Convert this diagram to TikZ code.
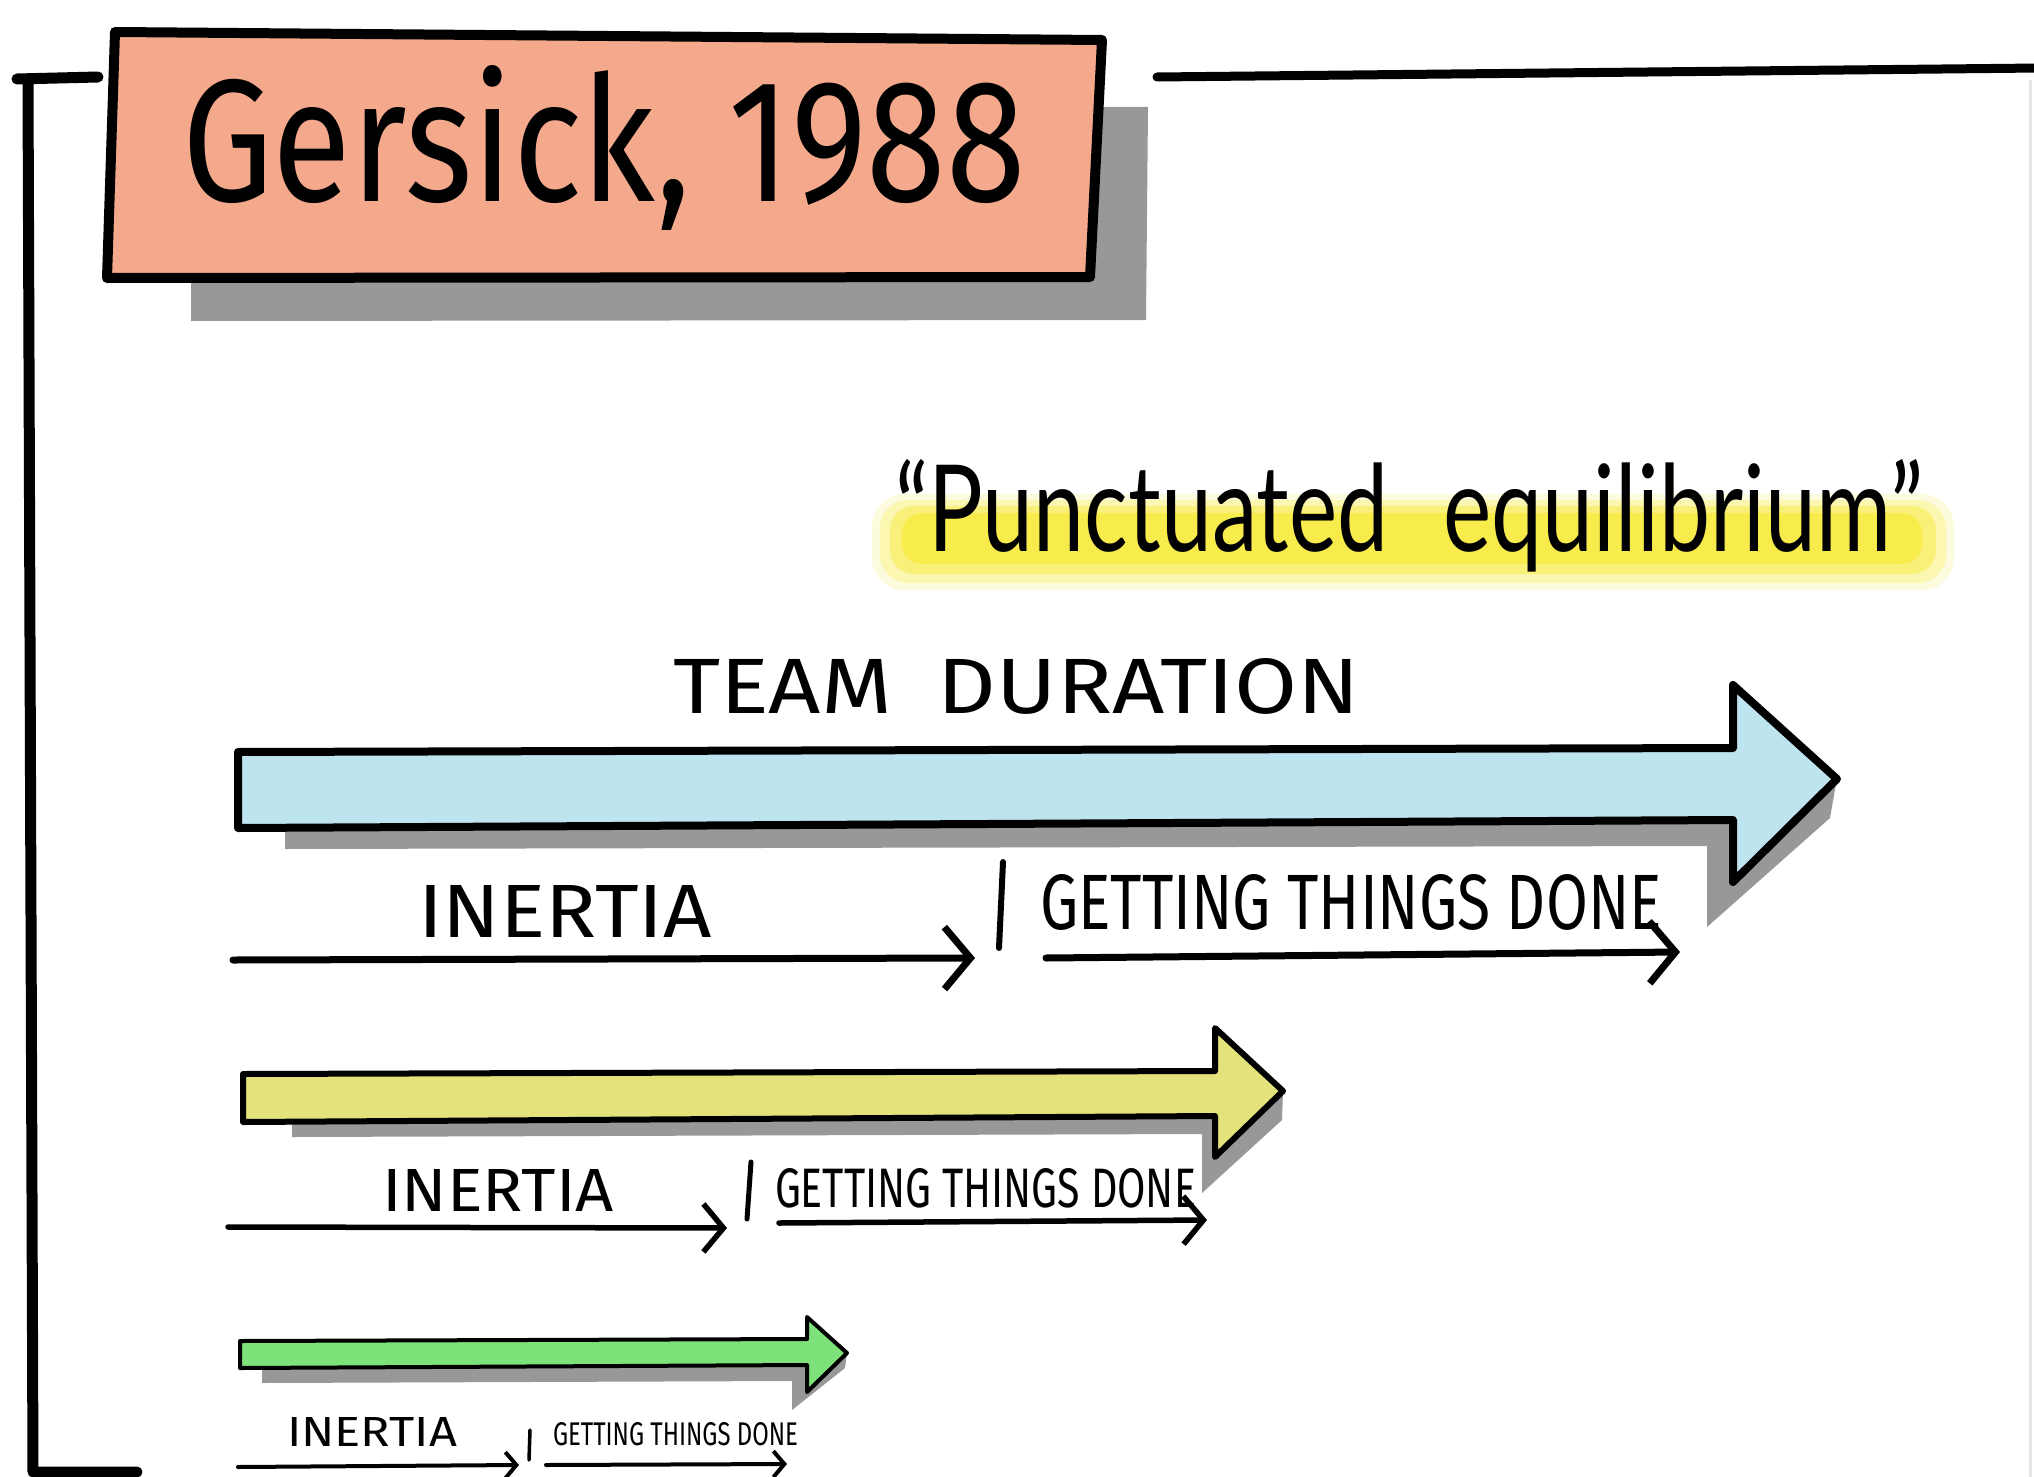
\documentclass[tikz,border=0pt]{standalone}
\usepackage{fontspec}
\setmainfont{Fira Sans}
\newfontfamily\lightfont{Lato}
\usetikzlibrary{arrows.meta}
\definecolor{salmon}{RGB}{245,169,140}
\definecolor{shadowgray}{RGB}{152,152,152}
\definecolor{blueA}{RGB}{190,228,240}
\definecolor{yellowA}{RGB}{228,226,122}
\definecolor{greenA}{RGB}{126,226,122}
\definecolor{hl}{RGB}{248,232,40}
\begin{document}
\begin{tikzpicture}[x=1pt,y=-1pt,
  frameline/.style={line width=11pt, black, line cap=round, line join=round},
  shadowfill/.style={fill=shadowgray, draw=none},
  blockarrow/.style={draw=black, line width=#1, line join=round},
  lbl/.style={anchor=base west, inner sep=0pt, outer sep=0pt, text=black},
  tlA/.style={line width=7pt, line cap=round, line join=round, -{Straight Barb[length=26pt,width=62pt]}},
  tlB/.style={line width=5.5pt, line cap=round, line join=round, -{Straight Barb[length=20pt,width=48pt]}},
  tlC/.style={line width=4pt, line cap=round, line join=round, -{Straight Barb[length=11pt,width=26pt]}},
  tickA/.style={line width=6pt, line cap=round},
]
\useasboundingbox (0,0) rectangle (2034,1477);
\fill[white] (0,0) rectangle (2034,1477);

% faint right edge
\coordinate (re1) at (2030,80);
\coordinate (re2) at (2030,1477);
\draw[black!10, line width=3pt] (re1) -- (re2);

% frame
\coordinate (fh1) at (17,79);
\coordinate (fh2) at (98,77);
\coordinate (ftop) at (28,80);
\coordinate (fbot) at (33,1472);
\coordinate (fend) at (137,1472);
\draw[frameline] (fh1) -- (fh2);
\draw[frameline] (ftop) -- (fbot) -- (fend);
\coordinate (tr1) at (1157,77);
\coordinate (tr2) at (2040,68);
\draw[line width=9pt, line cap=round] (tr1) -- (tr2);

% title box
\fill[shadowfill] (191,200) -- (191,321) -- (1146,320) -- (1148,107) -- (1000,107) -- cycle;
\draw[fill=salmon, line width=10pt, line join=round] (115,32) -- (1102,40) -- (1090,277) -- (107,278) -- cycle;
\node[lbl] (title) at (182,201) {\resizebox{843pt}{136pt}{Gersick, 1988}};

% highlight
\fill[hl, opacity=0.15, rounded corners=32pt] (872,494) rectangle (1954,590);
\fill[hl, opacity=0.25, rounded corners=28pt] (880,500) rectangle (1946,583);
\fill[hl, opacity=0.40, rounded corners=24pt] (890,506) rectangle (1936,574);
\fill[hl, opacity=0.55, rounded corners=20pt] (902,513) rectangle (1922,564);
\node[lbl] (pe) at (895,551) {\lightfont\resizebox{1027pt}{92pt}{“Punctuated\hspace{0.6em}equilibrium”}};

% team duration label
\node[lbl] (td) at (673,713) {\resizebox{686pt}{55pt}{TEAM\hspace{0.5em}DURATION}};

% blue arrow
\fill[shadowfill] (285,800) -- (285,849) -- (1707,846) -- (1707,927) -- (1830,818) -- (1837,778) -- cycle;
\draw[blockarrow=8pt, fill=blueA] (238,752) -- (1733,748) -- (1733,685) -- (1837,779) -- (1733,882) -- (1733,820) -- (238,828) -- cycle;

% timeline 1
\node[lbl] (in1) at (418,937) {\resizebox{294pt}{52pt}{INERTIA}};
\node[lbl] (gt1) at (1040,929) {\resizebox{622pt}{55pt}{GETTING THINGS DONE}};
\coordinate (a1s) at (233,960);
\coordinate (a1e) at (975,958);
\coordinate (b1s) at (1046,958);
\coordinate (b1e) at (1680,952);
\coordinate (t1a) at (1003,862);
\coordinate (t1b) at (999,948);
\draw[tlA] (a1s) -- (a1e);
\draw[tlA] (b1s) -- (b1e);
\draw[tickA] (t1a) -- (t1b);

% yellow arrow
\fill[shadowfill] (292,1100) -- (292,1137) -- (1202,1134) -- (1202,1193) -- (1282,1120) -- (1283,1091) -- cycle;
\draw[blockarrow=6pt, fill=yellowA] (243,1074) -- (1215,1071) -- (1215,1028) -- (1283,1091) -- (1215,1157) -- (1215,1116) -- (243,1122) -- cycle;

% timeline 2
\node[lbl] (in2) at (382,1211) {\resizebox{232pt}{42pt}{INERTIA}};
\node[lbl] (gt2) at (775,1207) {\resizebox{421pt}{39pt}{GETTING THINGS DONE}};
\coordinate (a2s) at (228,1227);
\coordinate (a2e) at (727,1228);
\coordinate (b2s) at (779,1223);
\coordinate (b2e) at (1207,1220);
\coordinate (t2a) at (751,1162);
\coordinate (t2b) at (747,1219);
\draw[tlB] (a2s) -- (a2e);
\draw[tlB] (b2s) -- (b2e);
\draw[line width=5pt, line cap=round] (t2a) -- (t2b);

% green arrow
\fill[shadowfill] (262,1355) -- (262,1383) -- (792,1381) -- (792,1410) -- (845,1368) -- (847,1353) -- cycle;
\draw[blockarrow=4pt, fill=greenA] (240,1341) -- (807,1339) -- (807,1317) -- (847,1353) -- (807,1392) -- (807,1365) -- (240,1368) -- cycle;

% timeline 3
\node[lbl] (in3) at (287,1446) {\resizebox{170pt}{29pt}{INERTIA}};
\node[lbl] (gt3) at (553,1445) {\resizebox{245pt}{23pt}{GETTING THINGS DONE}};
\coordinate (a3s) at (238,1467);
\coordinate (a3e) at (519,1465);
\coordinate (b3s) at (546,1465);
\coordinate (b3e) at (787,1464);
\coordinate (t3a) at (530,1430);
\coordinate (t3b) at (529,1460);
\draw[tlC] (a3s) -- (a3e);
\draw[tlC] (b3s) -- (b3e);
\draw[line width=3.5pt, line cap=round] (t3a) -- (t3b);
\end{tikzpicture}
\end{document}
